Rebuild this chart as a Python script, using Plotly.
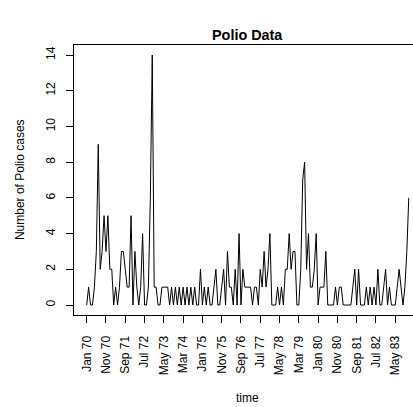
import plotly.graph_objects as go

cases = [
    0, 1, 0, 0, 1, 3, 9, 2, 3, 5, 3, 5,
    2, 2, 0, 1, 0, 1, 3, 3, 2, 1, 1, 5,
    0, 3, 1, 0, 1, 4, 0, 0, 1, 6, 14, 1,
    1, 0, 0, 1, 1, 1, 1, 0, 1, 0, 1, 0,
    1, 0, 1, 0, 1, 0, 1, 0, 1, 0, 0, 2,
    0, 1, 0, 1, 0, 0, 1, 2, 0, 0, 1, 2,
    0, 3, 1, 1, 0, 2, 0, 4, 0, 2, 1, 1,
    1, 1, 0, 1, 1, 0, 2, 1, 3, 1, 2, 4,
    0, 0, 0, 1, 0, 1, 0, 2, 2, 4, 2, 3,
    3, 0, 0, 2, 7, 8, 2, 4, 1, 1, 2, 4,
    0, 1, 1, 1, 3, 0, 0, 0, 0, 1, 0, 1,
    1, 0, 0, 0, 0, 0, 1, 2, 0, 2, 0, 0,
    0, 1, 0, 1, 0, 1, 0, 2, 0, 0, 1, 2,
    0, 1, 0, 0, 0, 1, 2, 1, 0, 1, 3, 6,
]
tick_labels = ["Jan 70", "Nov 70", "Sep 71", "Jul 72", "May 73", "Mar 74",
               "Jan 75", "Nov 75", "Sep 76", "Jul 77", "May 78", "Mar 79",
               "Jan 80", "Nov 80", "Sep 81", "Jul 82", "May 83"]
y_ticks = [0, 2, 4, 6, 8, 10, 12, 14]

months = list(range(1, len(cases) + 1))
tick_pos = months[::10]

FONT = "Liberation Sans, Arial, Helvetica, sans-serif"

fig = go.Figure(go.Scatter(x=months, y=cases, mode="lines",
                           line=dict(color="black", width=1),
                           hoverinfo="skip"))

fig.update_layout(
    width=413, height=407,
    margin=dict(l=74, r=0, t=45, b=92),
    paper_bgcolor="white", plot_bgcolor="white",
    showlegend=False,
    font=dict(family=FONT, size=12, color="black"),
    xaxis=dict(range=[-5.58, 170.2], tickmode="array", tickvals=tick_pos,
               ticktext=tick_labels, tickangle=-90, ticks="outside",
               ticklen=7, tickcolor="black", tickwidth=1,
               ticklabelstandoff=8,
               showline=True, linecolor="black", linewidth=1, mirror=True,
               showgrid=False, zeroline=False,
               tickfont=dict(family=FONT, size=12, color="black")),
    yaxis=dict(range=[-0.56, 14.56], tickmode="array", tickvals=y_ticks,
               tickangle=-90, ticks="outside", ticklen=7, tickcolor="black",
               tickwidth=1, ticklabelstandoff=6,
               showline=True, linecolor="black", linewidth=1,
               mirror=False, showgrid=False, zeroline=False,
               tickfont=dict(family=FONT, size=12, color="black")),
    annotations=[
        dict(text="<b>Polio Data</b>", xref="paper", yref="paper",
             x=0.513, y=1.037, xanchor="center", yanchor="middle",
             showarrow=False, font=dict(family=FONT, size=14.4, color="black")),
        dict(text="time", xref="paper", yref="paper",
             x=0.513, y=-0.307, xanchor="center", yanchor="middle",
             showarrow=False, font=dict(family=FONT, size=12, color="black")),
        dict(text="Number of Polio cases", xref="paper", yref="paper",
             x=-0.159, y=0.5, xanchor="center", yanchor="middle",
             textangle=-90, showarrow=False,
             font=dict(family=FONT, size=12, color="black")),
    ],
)

fig.write_html("out.html")
